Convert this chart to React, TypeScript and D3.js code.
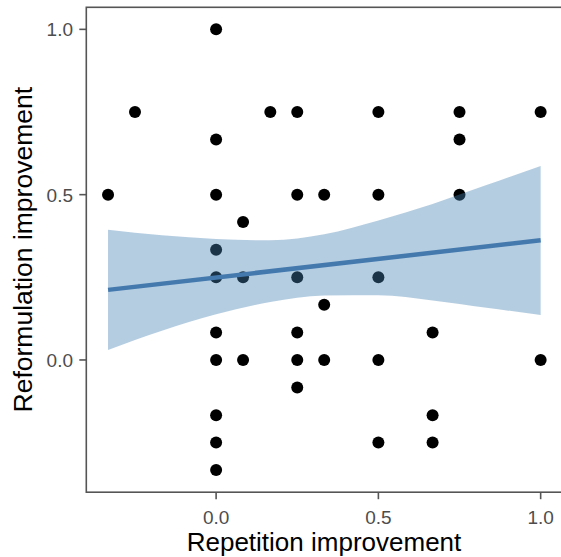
import React from "react";
import * as d3 from "d3";

const WIDTH = 561;
const HEIGHT = 557;

// points (x = repetition improvement, y = reformulation improvement)
const repetition = [
  0, -0.25, 0.167, 0.25, 0.5, 0.75, 1, 0, 0.75, -0.333, 0, 0.25, 0.333, 0.5, 0.75,
  0.083, 0, 0, 0.083, 0.25, 0.5, 0.333, 0, 0.25, 0.667, 0, 0.083, 0.25, 0.333, 0.5,
  1, 0.25, 0, 0.667, 0, 0.5, 0.667, 0,
];
const reformulation = [
  1, 0.75, 0.75, 0.75, 0.75, 0.75, 0.75, 0.667, 0.667, 0.5, 0.5, 0.5, 0.5, 0.5, 0.5,
  0.417, 0.333, 0.25, 0.25, 0.25, 0.25, 0.167, 0.083, 0.083, 0.083, 0, 0, 0, 0, 0,
  0, -0.083, -0.167, -0.167, -0.25, -0.25, -0.25, -0.333,
];

// linear fit with confidence band
const bandX = [-0.333, -0.167, 0, 0.167, 0.333, 0.5, 0.667, 0.833, 1];
const bandLow = [0.03, 0.088, 0.138, 0.175, 0.195, 0.196, 0.18, 0.158, 0.136];
const bandHigh = [0.394, 0.377, 0.366, 0.362, 0.38, 0.422, 0.472, 0.529, 0.587];
const fitX = [-0.333, 1];
const fitY = [0.212, 0.362];

const xTicks = [0, 0.5, 1];
const yTicks = [0, 0.5, 1];

const App = () => {
  const x = d3.scaleLinear().domain([-0.4, 1.0667]).range([86.3, 562.3]);
  const y = d3.scaleLinear().domain([-0.4, 1.0667]).range([492.2, 7.3]);

  const band = d3
    .area<number>()
    .x((d, i) => x(bandX[i]))
    .y0((d, i) => y(bandLow[i]))
    .y1((d, i) => y(bandHigh[i]))
    .curve(d3.curveMonotoneX)(bandX);

  const fit = d3
    .line<number>()
    .x((d, i) => x(fitX[i]))
    .y((d) => y(d))(fitY);

  const axisColor = "#555555";
  const font = "'Liberation Sans', Arial, sans-serif";

  return (
    <svg
      width={WIDTH}
      height={HEIGHT}
      style={{ position: "absolute", left: 0, top: 0, background: "#fff" }}
      fontFamily={font}
    >
      {repetition.map((v, i) => (
        <circle key={i} cx={x(v)} cy={y(reformulation[i])} r={6} fill="#000" />
      ))}
      <path d={band ?? ""} fill="steelblue" fillOpacity={0.4} />
      <path d={fit ?? ""} stroke="#4479ae" strokeWidth={4.5} fill="none" />

      {/* panel border */}
      <rect
        x={x(-0.4)}
        y={y(1.0667)}
        width={x(1.0667) - x(-0.4)}
        height={y(-0.4) - y(1.0667)}
        fill="none"
        stroke={axisColor}
        strokeWidth={1.6}
      />

      {xTicks.map((t) => (
        <g key={"x" + t}>
          <line x1={x(t)} x2={x(t)} y1={y(-0.4)} y2={y(-0.4) + 7} stroke={axisColor} strokeWidth={1.6} />
          <text x={x(t)} y={523.5} textAnchor="middle" fontSize={19} fill="#4d4d4d">
            {t.toFixed(1)}
          </text>
        </g>
      ))}
      {yTicks.map((t) => (
        <g key={"y" + t}>
          <line x1={x(-0.4) - 7} x2={x(-0.4)} y1={y(t)} y2={y(t)} stroke={axisColor} strokeWidth={1.6} />
          <text x={73} y={y(t) + 7} textAnchor="end" fontSize={19} fill="#4d4d4d">
            {t.toFixed(1)}
          </text>
        </g>
      ))}

      <text x={324} y={551} textAnchor="middle" fontSize={26} fill="#000">
        Repetition improvement
      </text>
      <text
        transform={`translate(32, 249.7) rotate(-90)`}
        textAnchor="middle"
        fontSize={26.5}
        fill="#000"
      >
        Reformulation improvement
      </text>
    </svg>
  );
};

export default App;
